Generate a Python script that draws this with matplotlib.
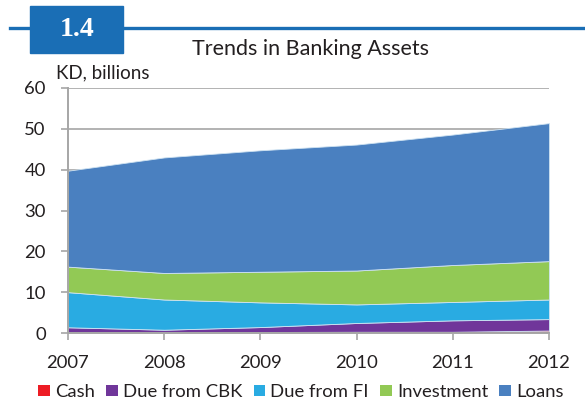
import matplotlib
matplotlib.use("Agg")
import matplotlib.pyplot as plt
from matplotlib.patches import Rectangle, Patch
from matplotlib.lines import Line2D

plt.rcParams["font.family"] = ["Lato", "DejaVu Sans"]

# data (KD billions)
years = [2007, 2008, 2009, 2010, 2011, 2012]
cash = [0.2, 0.2, 0.25, 0.3, 0.3, 0.6]
due_cbk = [1.2, 0.6, 1.2, 2.15, 2.8, 2.8]
due_fi = [8.6, 7.4, 6.05, 4.55, 4.5, 4.8]
investment = [6.25, 6.5, 7.5, 8.3, 9.05, 9.4]
loans = [23.5, 28.3, 29.75, 30.85, 31.95, 33.8]

series_names = ["Cash", "Due from CBK", "Due from FI", "Investment", "Loans"]
colors = ["#ED1C24", "#70369A", "#29ABE2", "#92C955", "#4A80C0"]
blue = "#1A6EB5"
txt = "#231F20"

W, H = 585, 405
fig = plt.figure(figsize=(W / 100, H / 100), dpi=100)


def fx(px):
    return px / W


def fy(py):
    return 1 - py / H


# header bar with number box
fig.add_artist(Line2D([fx(10), 1], [fy(28), fy(28)], color=blue, lw=2.4))
fig.add_artist(Rectangle((fx(30), fy(53)), fx(93), (53 - 6) / H, color=blue))
fig.text(fx(77), fy(30), "1.4", color="white", fontsize=20, fontweight="bold",
         family="Liberation Serif", ha="center", va="center")
fig.text(fx(311), fy(49), "Trends in Banking Assets", fontsize=15.5,
         color=txt, ha="center", va="center")
fig.text(fx(56), fy(73), "KD, billions", fontsize=13.5, color=txt,
         ha="left", va="center")

ax = fig.add_axes([fx(68), fy(333), fx(549 - 68), (333 - 88) / H])
ax.stackplot(years, cash, due_cbk, due_fi, investment, loans,
             colors=colors, linewidth=0.6, edgecolor="#CFE3F2", zorder=2)

ax.set_xlim(2007, 2012)
ax.set_ylim(0, 60)
ax.set_xticks(years)
ax.set_yticks(range(0, 61, 10))
ax.grid(axis="y", color="#A6A6A6", lw=1.2, zorder=0)
ax.set_axisbelow(True)

for s in ["top", "right"]:
    ax.spines[s].set_visible(False)
for s in ["left", "bottom"]:
    ax.spines[s].set_color("#A6A6A6")
    ax.spines[s].set_linewidth(1.4)
    ax.spines[s].set_zorder(3)

ax.tick_params(axis="both", colors="#A6A6A6", length=5, width=1.2,
               labelcolor=txt, labelsize=13.3)
ax.tick_params(axis="y", pad=11)
ax.tick_params(axis="x", pad=11)

handles = [Patch(facecolor=c, edgecolor="none") for c in colors]
fig.legend(handles, series_names, loc="center", bbox_to_anchor=(fx(301), fy(392)),
           ncol=5, frameon=False, fontsize=13.3, handlelength=0.62, handleheight=0.62,
           handletextpad=0.3, columnspacing=0.6, borderaxespad=0, labelcolor=txt)

fig.savefig("out.png", dpi=100)
